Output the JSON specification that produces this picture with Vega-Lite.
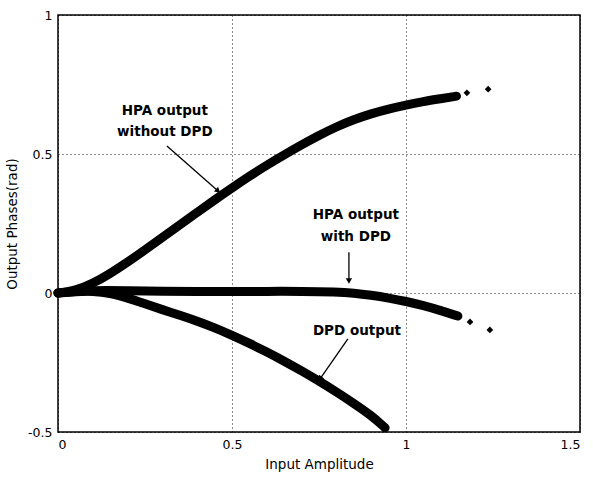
{
  "$schema": "https://vega.github.io/schema/vega-lite/v6.json",
  "width": 522,
  "height": 417,
  "autosize": {"type": "none"},
  "padding": {"left": 58, "top": 15, "right": 13, "bottom": 45},
  "background": "white",
  "config": {
    "view": {"stroke": "black", "strokeWidth": 1.5},
    "font": "DejaVu Sans",
    "axis": {
      "domain": false,
      "ticks": false,
      "grid": true,
      "gridColor": "black",
      "gridDash": [1, 3],
      "gridOpacity": 0.9,
      "gridWidth": 1,
      "labelFont": "DejaVu Sans",
      "labelFontSize": 12.5,
      "labelColor": "black",
      "titleFont": "DejaVu Sans",
      "titleFontSize": 13.5,
      "titleFontWeight": "normal",
      "titleColor": "black"
    }
  },
  "datasets": {
    "curves": [
      {"series": "HPA output without DPD", "amp": 0, "phase": 0},
      {"series": "HPA output without DPD", "amp": 0.05, "phase": 0.008},
      {"series": "HPA output without DPD", "amp": 0.1, "phase": 0.034},
      {"series": "HPA output without DPD", "amp": 0.15, "phase": 0.07},
      {"series": "HPA output without DPD", "amp": 0.2, "phase": 0.111},
      {"series": "HPA output without DPD", "amp": 0.25, "phase": 0.155},
      {"series": "HPA output without DPD", "amp": 0.3, "phase": 0.2},
      {"series": "HPA output without DPD", "amp": 0.35, "phase": 0.245},
      {"series": "HPA output without DPD", "amp": 0.4, "phase": 0.29},
      {"series": "HPA output without DPD", "amp": 0.45, "phase": 0.335},
      {"series": "HPA output without DPD", "amp": 0.5, "phase": 0.378},
      {"series": "HPA output without DPD", "amp": 0.55, "phase": 0.42},
      {"series": "HPA output without DPD", "amp": 0.6, "phase": 0.46},
      {"series": "HPA output without DPD", "amp": 0.65, "phase": 0.497},
      {"series": "HPA output without DPD", "amp": 0.7, "phase": 0.533},
      {"series": "HPA output without DPD", "amp": 0.75, "phase": 0.567},
      {"series": "HPA output without DPD", "amp": 0.8, "phase": 0.598},
      {"series": "HPA output without DPD", "amp": 0.85, "phase": 0.624},
      {"series": "HPA output without DPD", "amp": 0.9, "phase": 0.645},
      {"series": "HPA output without DPD", "amp": 0.95, "phase": 0.662},
      {"series": "HPA output without DPD", "amp": 1.0, "phase": 0.676},
      {"series": "HPA output without DPD", "amp": 1.05, "phase": 0.689},
      {"series": "HPA output without DPD", "amp": 1.1, "phase": 0.699},
      {"series": "HPA output without DPD", "amp": 1.145, "phase": 0.708},
      {"series": "HPA output with DPD", "amp": 0, "phase": 0},
      {"series": "HPA output with DPD", "amp": 0.1, "phase": 0.01},
      {"series": "HPA output with DPD", "amp": 0.2, "phase": 0.008},
      {"series": "HPA output with DPD", "amp": 0.3, "phase": 0.006},
      {"series": "HPA output with DPD", "amp": 0.4, "phase": 0.005},
      {"series": "HPA output with DPD", "amp": 0.5, "phase": 0.005},
      {"series": "HPA output with DPD", "amp": 0.6, "phase": 0.006},
      {"series": "HPA output with DPD", "amp": 0.7, "phase": 0.006},
      {"series": "HPA output with DPD", "amp": 0.8, "phase": 0.004},
      {"series": "HPA output with DPD", "amp": 0.85, "phase": 0.0},
      {"series": "HPA output with DPD", "amp": 0.9, "phase": -0.008},
      {"series": "HPA output with DPD", "amp": 0.95, "phase": -0.018},
      {"series": "HPA output with DPD", "amp": 1.0, "phase": -0.03},
      {"series": "HPA output with DPD", "amp": 1.05, "phase": -0.045},
      {"series": "HPA output with DPD", "amp": 1.1, "phase": -0.063},
      {"series": "HPA output with DPD", "amp": 1.149, "phase": -0.083},
      {"series": "DPD output", "amp": 0, "phase": 0},
      {"series": "DPD output", "amp": 0.05, "phase": 0.005},
      {"series": "DPD output", "amp": 0.1, "phase": 0.007},
      {"series": "DPD output", "amp": 0.15, "phase": 0.0},
      {"series": "DPD output", "amp": 0.2, "phase": -0.018},
      {"series": "DPD output", "amp": 0.25, "phase": -0.039},
      {"series": "DPD output", "amp": 0.3, "phase": -0.06},
      {"series": "DPD output", "amp": 0.35, "phase": -0.08},
      {"series": "DPD output", "amp": 0.4, "phase": -0.101},
      {"series": "DPD output", "amp": 0.45, "phase": -0.125},
      {"series": "DPD output", "amp": 0.5, "phase": -0.152},
      {"series": "DPD output", "amp": 0.55, "phase": -0.181},
      {"series": "DPD output", "amp": 0.6, "phase": -0.212},
      {"series": "DPD output", "amp": 0.65, "phase": -0.245},
      {"series": "DPD output", "amp": 0.7, "phase": -0.28},
      {"series": "DPD output", "amp": 0.75, "phase": -0.317},
      {"series": "DPD output", "amp": 0.8, "phase": -0.356},
      {"series": "DPD output", "amp": 0.85, "phase": -0.397},
      {"series": "DPD output", "amp": 0.9, "phase": -0.44},
      {"series": "DPD output", "amp": 0.94, "phase": -0.485}
    ],
    "dots": [
      {"series": "HPA output without DPD", "amp": 1.175, "phase": 0.72},
      {"series": "HPA output without DPD", "amp": 1.236, "phase": 0.733},
      {"series": "HPA output with DPD", "amp": 1.184, "phase": -0.104},
      {"series": "HPA output with DPD", "amp": 1.241, "phase": -0.133}
    ],
    "arrows": [
      {"id": "a1", "x1": 0.313, "y1": 0.529, "x2": 0.46, "y2": 0.367},
      {"id": "a2", "x1": 0.836, "y1": 0.147, "x2": 0.836, "y2": 0.043},
      {"id": "a3", "x1": 0.833, "y1": -0.165, "x2": 0.753, "y2": -0.309}
    ],
    "labels": [
      {"text": "HPA output", "x": 0.307, "y": 0.655},
      {"text": "without DPD", "x": 0.307, "y": 0.579},
      {"text": "HPA output", "x": 0.856, "y": 0.281},
      {"text": "with DPD", "x": 0.856, "y": 0.201},
      {"text": "DPD output", "x": 0.859, "y": -0.137}
    ]
  },
  "layer": [
    {
      "data": {"name": "curves"},
      "mark": {"type": "line", "color": "black", "strokeWidth": 9, "strokeCap": "round", "strokeJoin": "round", "interpolate": "basis"},
      "encoding": {
        "x": {"field": "amp", "type": "quantitative", "scale": {"domain": [0, 1.5], "nice": false, "zero": false},
              "axis": {"values": [0, 0.5, 1, 1.5], "format": "~g", "title": "Input Amplitude", "labelPadding": 6, "titlePadding": 7}},
        "y": {"field": "phase", "type": "quantitative", "scale": {"domain": [-0.5, 1], "nice": false, "zero": false},
              "axis": {"values": [-0.5, 0, 0.5, 1], "format": "~g", "labelExpr": "datum.value < 0 ? '-' + format(-datum.value, '~g') : datum.label", "title": "Output Phases(rad)", "labelPadding": 6, "titlePadding": 8}},
        "detail": {"field": "series"}
      }
    },
    {
      "data": {"name": "dots"},
      "mark": {"type": "point", "shape": "diamond", "filled": true, "color": "black", "size": 45, "opacity": 1},
      "encoding": {
        "x": {"field": "amp", "type": "quantitative"},
        "y": {"field": "phase", "type": "quantitative"}
      }
    },
    {
      "data": {"name": "arrows"},
      "mark": {"type": "rule", "color": "black", "strokeWidth": 1.3},
      "encoding": {
        "x": {"field": "x1", "type": "quantitative"},
        "y": {"field": "y1", "type": "quantitative"},
        "x2": {"field": "x2"},
        "y2": {"field": "y2"}
      }
    },
    {
      "data": {"name": "arrows"},
      "transform": [{"filter": "datum.id === 'a1'"}],
      "mark": {"type": "point", "shape": "triangle-right", "filled": true, "color": "black", "size": 40, "angle": 41, "opacity": 1},
      "encoding": {
        "x": {"field": "x2", "type": "quantitative"},
        "y": {"field": "y2", "type": "quantitative"}
      }
    },
    {
      "data": {"name": "arrows"},
      "transform": [{"filter": "datum.id === 'a2'"}],
      "mark": {"type": "point", "shape": "triangle-down", "filled": true, "color": "black", "size": 40, "opacity": 1},
      "encoding": {
        "x": {"field": "x2", "type": "quantitative"},
        "y": {"field": "y2", "type": "quantitative"}
      }
    },
    {
      "data": {"name": "arrows"},
      "transform": [{"filter": "datum.id === 'a3'"}],
      "mark": {"type": "point", "shape": "triangle-right", "filled": true, "color": "black", "size": 40, "angle": 126, "opacity": 1},
      "encoding": {
        "x": {"field": "x2", "type": "quantitative"},
        "y": {"field": "y2", "type": "quantitative"}
      }
    },
    {
      "data": {"name": "labels"},
      "mark": {"type": "text", "font": "DejaVu Sans", "fontWeight": "bold", "fontSize": 13.5, "color": "black", "align": "center", "baseline": "middle"},
      "encoding": {
        "x": {"field": "x", "type": "quantitative"},
        "y": {"field": "y", "type": "quantitative"},
        "text": {"field": "text"}
      }
    }
  ]
}
